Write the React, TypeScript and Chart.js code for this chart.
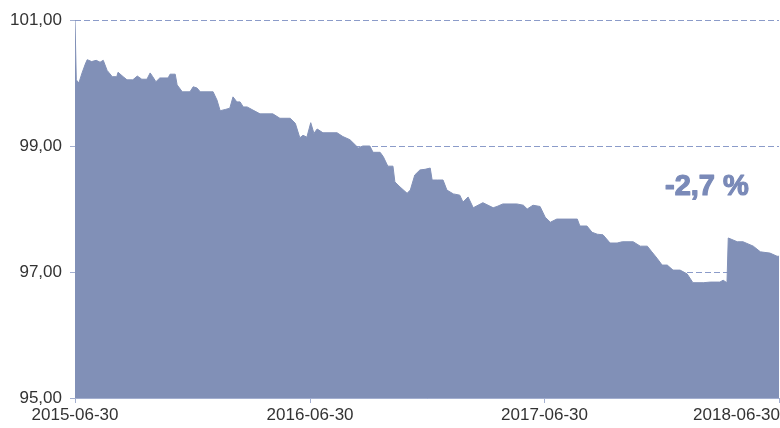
import React, { useEffect, useRef } from "react";
import { Chart, registerables } from "chart.js";

Chart.register(...registerables);

// Days since 2015-06-30
const dayOffsets = [
  0, 2, 6, 11, 16, 19, 26, 33, 39, 44, 50, 58, 65, 67, 75, 81, 90, 97, 104, 112,
  117, 121, 126, 132, 145, 148, 156, 159, 167, 179, 184, 190, 195, 215, 221, 226,
  234, 241, 246, 252, 257, 262, 268, 277, 288, 308, 319, 335, 343, 350, 355, 361,
  367, 372, 377, 386, 408, 417, 428, 433, 441, 448, 459, 464, 475, 480, 487, 495,
  498, 506, 517, 522, 529, 537, 545, 553, 556, 564, 573, 579, 589, 599, 604, 612,
  620, 635, 651, 657, 666, 688, 698, 704, 713, 724, 732, 740, 750, 782, 786, 797,
  805, 813, 822, 833, 844, 852, 869, 880, 891, 898, 906, 914, 922, 931, 942, 953,
  962, 978, 989, 1004, 1009, 1015, 1017, 1031, 1040, 1056, 1067, 1082, 1093, 1096,
];

const values = [
  101.0, 100.05, 100.0, 100.16, 100.3, 100.37, 100.34, 100.36, 100.33, 100.36, 100.2,
  100.1, 100.1, 100.17, 100.1, 100.05, 100.05, 100.11, 100.06, 100.06, 100.16, 100.1,
  100.02, 100.08, 100.08, 100.14, 100.14, 99.97, 99.86, 99.86, 99.94, 99.92, 99.86,
  99.86, 99.73, 99.56, 99.58, 99.6, 99.78, 99.7, 99.7, 99.62, 99.62, 99.57, 99.51,
  99.51, 99.44, 99.44, 99.36, 99.13, 99.17, 99.14, 99.37, 99.2, 99.27, 99.21, 99.21,
  99.15, 99.1, 99.05, 98.97, 99.0, 99.0, 98.9, 98.9, 98.83, 98.68, 98.68, 98.43,
  98.35, 98.25, 98.3, 98.54, 98.62, 98.63, 98.65, 98.46, 98.46, 98.46, 98.3, 98.24,
  98.22, 98.11, 98.19, 98.02, 98.1, 98.02, 98.04, 98.08, 98.08, 98.06, 98.0, 98.06,
  98.04, 97.87, 97.79, 97.84, 97.84, 97.73, 97.73, 97.63, 97.6, 97.59, 97.46, 97.46,
  97.48, 97.48, 97.41, 97.41, 97.32, 97.22, 97.11, 97.11, 97.03, 97.03, 96.97, 96.83,
  96.83, 96.84, 96.84, 96.87, 96.83, 97.54, 97.48, 97.48, 97.41, 97.32, 97.3, 97.25,
  97.25,
];

const tickDays = [0, 366, 731, 1096];
const tickLabels = ["2015-06-30", "2016-06-30", "2017-06-30", "2018-06-30"];
const annotationText = "-2,7 %";

const FILL = "#8190b7";
const GRID = "#8b9bc9";
const AXIS = "#a3afd0";
const LABEL = "#333333";
const FONT = "'Liberation Sans', Arial, sans-serif";

export default function App() {
  const ref = useRef<HTMLCanvasElement | null>(null);

  useEffect(() => {
    if (!ref.current) return;
    const points = dayOffsets.map((d, i) => ({ x: d, y: values[i] }));

    const labelPlugin = {
      id: "customLabels",
      afterDraw(chart: any) {
        const ctx = chart.ctx;
        const xs = chart.scales.x;
        ctx.save();
        ctx.font = `17px ${FONT}`;
        ctx.fillStyle = LABEL;
        ctx.textBaseline = "middle";
        tickDays.forEach((d, i) => {
          const px = xs.getPixelForValue(d);
          const w = ctx.measureText(tickLabels[i]).width;
          let left = px - w / 2;
          if (left + w > chart.width) left = chart.width - w;
          if (left < 0) left = 0;
          ctx.textAlign = "left";
          ctx.fillText(tickLabels[i], left, xs.bottom - 13);
        });
        ctx.font = `bold 29px ${FONT}`;
        ctx.fillStyle = "#7a8ab8";
        ctx.strokeStyle = "#7a8ab8";
        ctx.lineWidth = 1.2;
        ctx.lineJoin = "round";
        ctx.textAlign = "left";
        ctx.textBaseline = "alphabetic";
        ctx.fillText(annotationText, 665, 195);
        ctx.strokeText(annotationText, 665, 195);
        ctx.restore();
      },
    };

    const chart = new Chart(ref.current, {
      type: "line",
      data: {
        datasets: [
          {
            data: points,
            borderColor: FILL,
            backgroundColor: FILL,
            borderWidth: 1,
            pointRadius: 0,
            fill: "start",
            tension: 0,
          },
        ],
      },
      options: {
        animation: false,
        responsive: false,
        maintainAspectRatio: false,
        layout: { padding: { top: 20, right: 1, left: 0, bottom: 0 } },
        plugins: {
          legend: { display: false },
          tooltip: { enabled: false },
        },
        scales: {
          x: {
            type: "linear",
            min: 0,
            max: 1096,
            afterBuildTicks: (scale: any) => {
              scale.ticks = tickDays.map((v) => ({ value: v }));
            },
            afterFit: (scale: any) => {
              scale.height = 30;
            },
            ticks: { display: false },
            grid: {
              drawOnChartArea: false,
              drawTicks: true,
              tickLength: 5,
              tickColor: AXIS,
            },
            border: { display: true, color: AXIS, width: 1 },
          },
          y: {
            min: 95,
            max: 101,
            afterFit: (scale: any) => {
              scale.width = 75;
            },
            ticks: {
              stepSize: 2,
              padding: 8,
              color: LABEL,
              font: { family: FONT, size: 17 },
              callback: (v: any) => Number(v).toFixed(2).replace(".", ","),
            },
            grid: {
              color: GRID,
              lineWidth: 1,
              drawTicks: true,
              tickLength: 5,
              tickColor: AXIS,
              tickBorderDash: [],
            },
            border: { display: false, dash: [6, 3] },
          },
        },
      },
      plugins: [labelPlugin],
    });
    return () => chart.destroy();
  }, []);

  return (
    <div style={{ position: "absolute", left: 0, top: 0, width: 780, height: 428, background: "#fff" }}>
      <canvas ref={ref} width={780} height={428} style={{ width: 780, height: 428 }} />
    </div>
  );
}
